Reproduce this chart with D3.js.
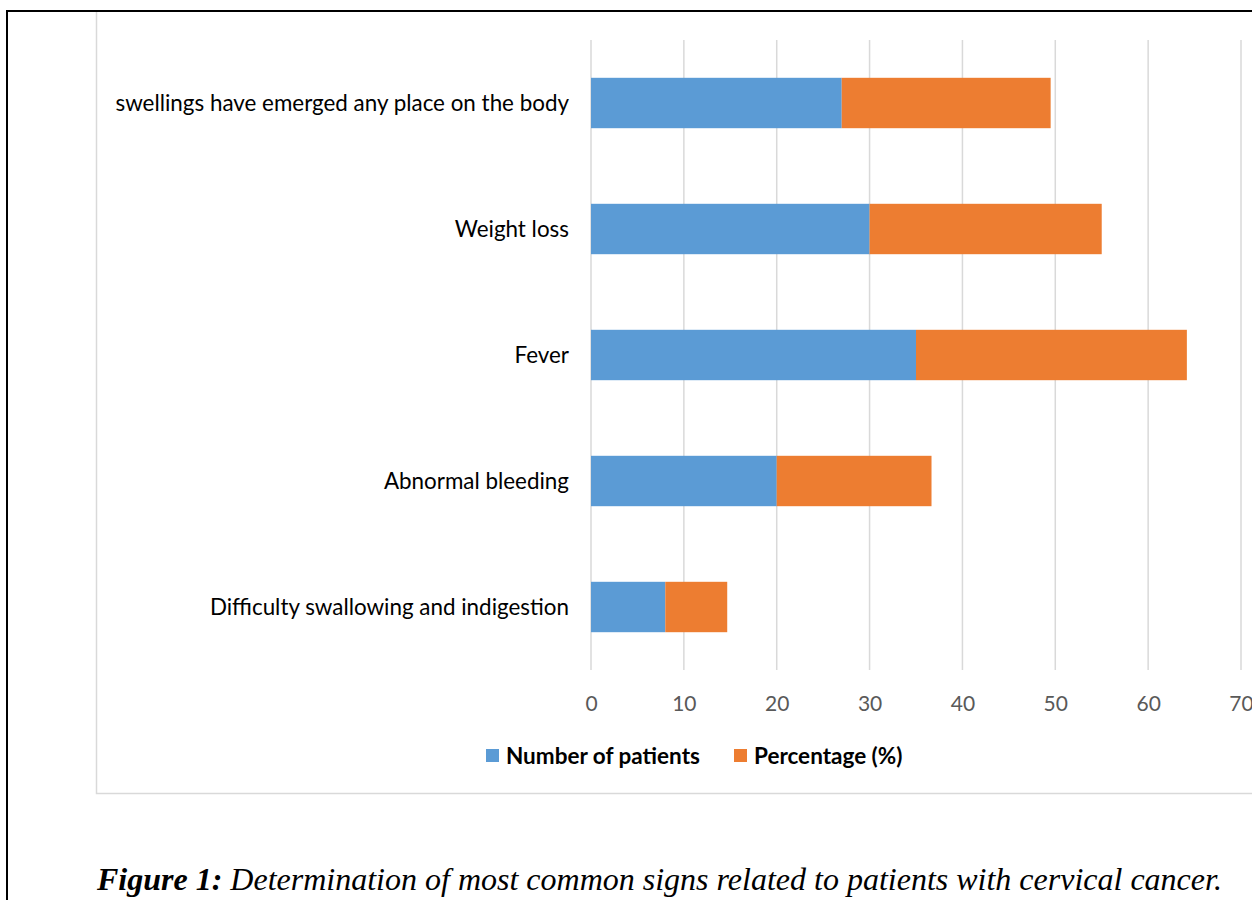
<!DOCTYPE html>
<html>
<head>
<meta charset="utf-8">
<script src="https://cdn.jsdelivr.net/npm/d3@7"></script>
<style>
  html, body { margin: 0; padding: 0; background: #fff; }
  svg { display: block; }
</style>
</head>
<body>
<svg id="chart" width="1252" height="900"></svg>
<script>
// Signs reported by patients with cervical cancer
const categories = [
  "swellings have emerged any place on the body",
  "Weight loss",
  "Fever",
  "Abnormal bleeding",
  "Difficulty swallowing and indigestion"
];
const patients = [27, 30, 35, 20, 8];
const percentages = [22.5, 25, 29.17, 16.67, 6.67];
const seriesNames = ["Number of patients", "Percentage (%)"];
const seriesColors = ["#5B9BD5", "#ED7D31"];
const xTicks = [0, 10, 20, 30, 40, 50, 60, 70];

const svg = d3.select("#chart");
const uiFont = "Lato, 'Open Sans', sans-serif";

// page frame
svg.append("line").attr("x1", 7).attr("x2", 1252).attr("y1", 11).attr("y2", 11)
  .attr("stroke", "#000").attr("stroke-width", 2);
svg.append("line").attr("x1", 7).attr("x2", 7).attr("y1", 10).attr("y2", 900)
  .attr("stroke", "#000").attr("stroke-width", 2);

// chart area border
svg.append("path").attr("d", "M1260,793.5H96.5V12")
  .attr("fill", "none").attr("stroke", "#d9d9d9").attr("stroke-width", 1.5);

const plot = { left: 591, right: 1241, top: 40, bottom: 670 };

const x = d3.scaleLinear().domain([0, 70]).range([plot.left, plot.right]);
const y = d3.scaleBand().domain(categories).range([plot.top, plot.bottom]).paddingInner(0.6).paddingOuter(0.3);

// vertical gridlines
svg.append("g").selectAll("line").data(xTicks).join("line")
  .attr("x1", d => x(d)).attr("x2", d => x(d))
  .attr("y1", plot.top).attr("y2", plot.bottom)
  .attr("stroke", "#d9d9d9").attr("stroke-width", 1.5);

// stacked bars
const rows = categories.map((c, i) => ({ cat: c, vals: [patients[i], percentages[i]] }));
const stack = d3.stack().keys([0, 1]).value((d, k) => d.vals[k]);
const layers = stack(rows);

svg.append("g").selectAll("g").data(layers).join("g")
  .attr("fill", (d, i) => seriesColors[i])
  .selectAll("rect").data(d => d).join("rect")
  .attr("x", d => x(d[0]))
  .attr("width", d => x(d[1]) - x(d[0]))
  .attr("y", d => y(d.data.cat))
  .attr("height", y.bandwidth());

// category labels
const yAxis = d3.axisLeft(y).tickSize(0).tickPadding(22);
const gy = svg.append("g").attr("transform", `translate(${plot.left},1)`).call(yAxis);
gy.select(".domain").remove();
gy.selectAll("text").attr("font-family", uiFont).attr("font-size", 22.4).attr("fill", "#000");

// value axis labels
const xAxis = d3.axisBottom(x).tickValues(xTicks).tickSize(0).tickPadding(26);
const gx = svg.append("g").attr("transform", `translate(0,${plot.bottom})`).call(xAxis);
gx.select(".domain").remove();
gx.selectAll("text").attr("font-family", uiFont).attr("font-size", 21).attr("fill", "#595959");

// legend
const legendX = [486, 734];
const lg = svg.append("g").selectAll("g").data(seriesNames).join("g")
  .attr("transform", (d, i) => `translate(${legendX[i]},749)`);
lg.append("rect").attr("width", 13).attr("height", 13).attr("fill", (d, i) => seriesColors[i]);
lg.append("text").attr("x", 20).attr("y", 7).attr("dy", "0.35em")
  .attr("font-family", uiFont).attr("font-weight", 700).attr("font-size", 22.5)
  .attr("fill", "#000").text(d => d);

// caption
const cap = svg.append("text").attr("x", 97).attr("y", 890)
  .attr("font-family", "'Liberation Serif', 'Times New Roman', serif")
  .attr("font-size", 32).attr("font-style", "italic").attr("fill", "#000");
cap.append("tspan").attr("font-weight", 700).text("Figure 1:");
cap.append("tspan").text(" Determination of most common signs related to patients with cervical cancer.");
</script>
</body>
</html>
